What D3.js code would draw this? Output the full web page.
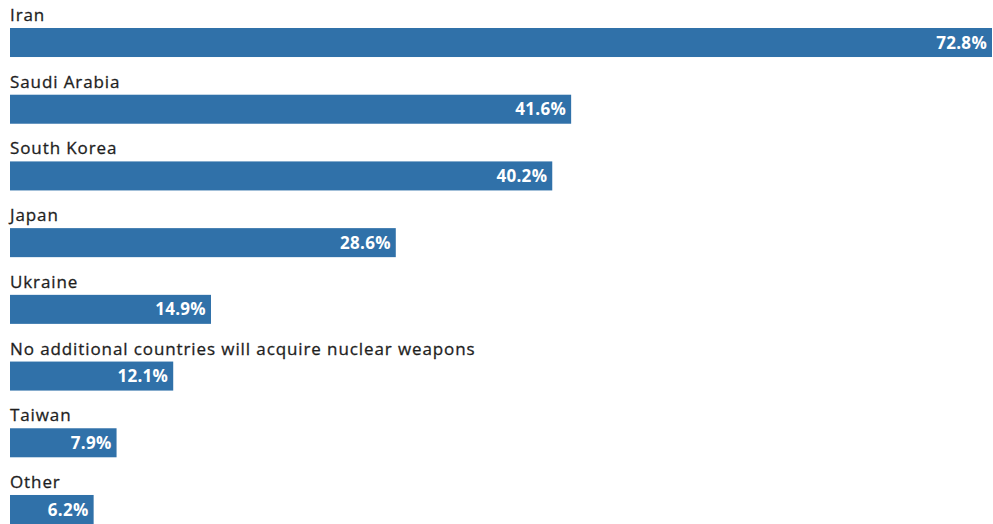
<!DOCTYPE html>
<html>
<head>
<meta charset="utf-8">
<script src="https://cdn.jsdelivr.net/npm/d3@7"></script>
<style>
  body { margin: 0; background: #fff; }
  text { font-family: "Open Sans", "Noto Sans", sans-serif; }
</style>
</head>
<body>
<div id="chart"></div>
<script>
// data
var countries = ["Iran", "Saudi Arabia", "South Korea", "Japan", "Ukraine",
  "No additional countries will acquire nuclear weapons", "Taiwan", "Other"];
var shares = [72.8, 41.6, 40.2, 28.6, 14.9, 12.1, 7.9, 6.2];

var width = 993, height = 524;

var svg = d3.select("#chart")
  .append("svg")
    .attr("width", width)
    .attr("height", height);

var rows = countries.map(function(c, i) { return {name: c, value: shares[i]}; });

// scales
var x = d3.scaleLinear().domain([0, 72.8]).range([10, 992]);
var y = d3.scaleBand().domain(countries).range([28, 524]).paddingInner(0.565).paddingOuter(0);

var g = svg.selectAll("g.row")
  .data(rows)
  .enter().append("g")
    .attr("class", "row");

g.append("rect")
  .attr("x", x(0))
  .attr("y", function(d) { return y(d.name); })
  .attr("width", function(d) { return x(d.value) - x(0); })
  .attr("height", y.bandwidth())
  .attr("fill", "#3071a9");

// category label above each bar
g.append("text")
  .attr("x", x(0))
  .attr("y", function(d) { return y(d.name) - 7; })
  .attr("font-size", 17)
  .attr("letter-spacing", "0.9px")
  .attr("fill", "#1e1e1e")
  .attr("stroke", "#1e1e1e")
  .attr("stroke-width", 0.3)
  .text(function(d) { return d.name; });

// value inside bar end
g.append("text")
  .attr("x", function(d) { return x(d.value) - 5; })
  .attr("y", function(d) { return y(d.name) + y.bandwidth() / 2; })
  .attr("dy", "0.36em")
  .attr("text-anchor", "end")
  .attr("font-size", 17)
  .attr("letter-spacing", "0.3px")
  .attr("font-weight", "bold")
  .attr("fill", "#fff")
  .text(function(d) { return d.value.toFixed(1) + "%"; });
</script>
</body>
</html>
